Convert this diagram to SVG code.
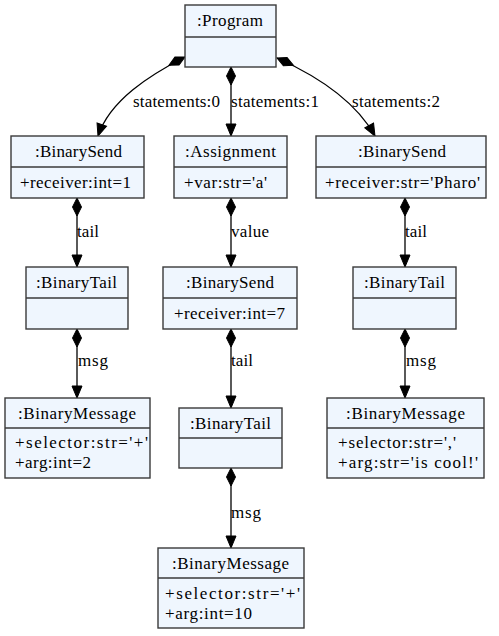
<svg xmlns="http://www.w3.org/2000/svg" width="499" height="636" viewBox="0 0 499 636" font-family="'Liberation Serif', 'Times New Roman', 'DejaVu Serif', serif" font-size="17">
<defs>
<style>
.box{fill:#eff6fe;stroke:#3a3a3a;stroke-width:1.4}
.div{stroke:#3a3a3a;stroke-width:1.4}
text{font-family:"Liberation Serif","Times New Roman","DejaVu Serif",serif;font-size:17px;fill:#000}
.e{fill:none;stroke:#000;stroke-width:1.3}
</style>
<marker id="dia" markerUnits="userSpaceOnUse" markerWidth="20" markerHeight="12" refX="0" refY="6" orient="auto" viewBox="0 0 20 12" overflow="visible">
<polygon points="0,6 9,1.5 18,6 9,10.5" fill="#000" stroke="#000"/>
</marker>
<marker id="arr" markerUnits="userSpaceOnUse" markerWidth="14" markerHeight="12" refX="12" refY="6" orient="auto" viewBox="0 0 14 12" overflow="visible">
<polygon points="0,1 12,6 0,11" fill="#000" stroke="#000"/>
</marker>
</defs>
<rect width="499" height="636" fill="#fff"/>
<g id="edges">
<path class="e" d="M185,57 C150,75 110,100 98,136" marker-start="url(#dia)" marker-end="url(#arr)"/>
<path class="e" d="M231,67 L231,136" marker-start="url(#dia)" marker-end="url(#arr)"/>
<path class="e" d="M277,58 C315,75 355,100 375,136" marker-start="url(#dia)" marker-end="url(#arr)"/>
<path class="e" d="M77,198 L77,267" marker-start="url(#dia)" marker-end="url(#arr)"/>
<path class="e" d="M231,198 L231,267" marker-start="url(#dia)" marker-end="url(#arr)"/>
<path class="e" d="M405,198 L405,267" marker-start="url(#dia)" marker-end="url(#arr)"/>
<path class="e" d="M77,329 L77,398" marker-start="url(#dia)" marker-end="url(#arr)"/>
<path class="e" d="M231,329 L231,408" marker-start="url(#dia)" marker-end="url(#arr)"/>
<path class="e" d="M405,329 L405,398" marker-start="url(#dia)" marker-end="url(#arr)"/>
<path class="e" d="M231,468 L231,548" marker-start="url(#dia)" marker-end="url(#arr)"/>
<text x="133" y="107" textLength="87">statements:0</text>
<text x="231" y="107" textLength="88">statements:1</text>
<text x="352" y="107" textLength="88">statements:2</text>
<text x="77" y="237" textLength="22">tail</text>
<text x="231" y="237" textLength="38">value</text>
<text x="405" y="237" textLength="22">tail</text>
<text x="78" y="366" textLength="30">msg</text>
<text x="231" y="366" textLength="22">tail</text>
<text x="406" y="366" textLength="30">msg</text>
<text x="231" y="518" textLength="30">msg</text>
</g>
<g id="program">
<rect class="box" x="185" y="5" width="91" height="62"/>
<line class="div" x1="185" y1="37" x2="276" y2="37"/>
<text x="197" y="26" textLength="66">:Program</text>
</g>
<g id="binarysend1">
<rect class="box" x="11" y="136" width="133" height="62"/>
<line class="div" x1="11" y1="167" x2="144" y2="167"/>
<text x="35" y="157" textLength="87">:BinarySend</text>
<text x="20" y="188" textLength="111">+receiver:int=1</text>
</g>
<g id="assignment">
<rect class="box" x="174" y="136" width="113" height="62"/>
<line class="div" x1="174" y1="167" x2="287" y2="167"/>
<text x="185" y="157" textLength="91">:Assignment</text>
<text x="184" y="188" textLength="83">+var:str='a'</text>
</g>
<g id="binarysend3">
<rect class="box" x="316" y="136" width="170" height="62"/>
<line class="div" x1="316" y1="167" x2="486" y2="167"/>
<text x="358" y="157" textLength="88">:BinarySend</text>
<text x="325" y="188" textLength="155">+receiver:str='Pharo'</text>
</g>
<g id="binarytail1">
<rect class="box" x="26" y="267" width="102" height="62"/>
<line class="div" x1="26" y1="298" x2="128" y2="298"/>
<text x="36" y="288" textLength="81">:BinaryTail</text>
</g>
<g id="binarysend2">
<rect class="box" x="163" y="267" width="134" height="62"/>
<line class="div" x1="163" y1="298" x2="297" y2="298"/>
<text x="186" y="288" textLength="88">:BinarySend</text>
<text x="174" y="319" textLength="111">+receiver:int=7</text>
</g>
<g id="binarytail3">
<rect class="box" x="353" y="267" width="103" height="62"/>
<line class="div" x1="353" y1="298" x2="456" y2="298"/>
<text x="364" y="288" textLength="81">:BinaryTail</text>
</g>
<g id="binarymessage1">
<rect class="box" x="5" y="398" width="145" height="80"/>
<line class="div" x1="5" y1="428" x2="150" y2="428"/>
<text x="18" y="419" textLength="118">:BinaryMessage</text>
<text x="15" y="448" textLength="133">+selector:str='+'</text>
<text x="15" y="468" textLength="76">+arg:int=2</text>
</g>
<g id="binarytail2">
<rect class="box" x="179" y="408" width="103" height="60"/>
<line class="div" x1="179" y1="438" x2="282" y2="438"/>
<text x="190" y="429" textLength="81">:BinaryTail</text>
</g>
<g id="binarymessage3">
<rect class="box" x="327" y="398" width="157" height="80"/>
<line class="div" x1="327" y1="428" x2="484" y2="428"/>
<text x="346" y="419" textLength="119">:BinaryMessage</text>
<text x="338" y="448" textLength="118">+selector:str=','</text>
<text x="338" y="468" textLength="140">+arg:str='is cool!'</text>
</g>
<g id="binarymessage2">
<rect class="box" x="158" y="548" width="146" height="80"/>
<line class="div" x1="158" y1="578" x2="304" y2="578"/>
<text x="172" y="569" textLength="117">:BinaryMessage</text>
<text x="165" y="599" textLength="135">+selector:str='+'</text>
<text x="165" y="619" textLength="87">+arg:int=10</text>
</g>
</svg>
